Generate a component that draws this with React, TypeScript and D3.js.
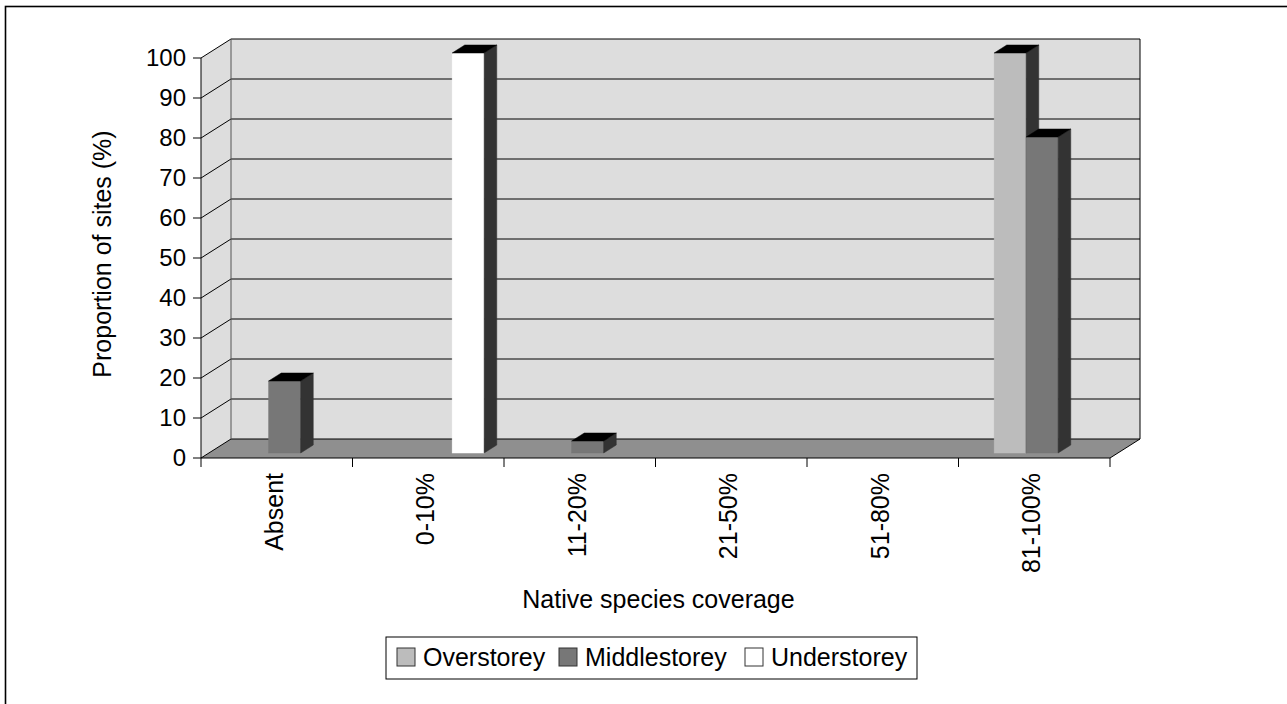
import React from "react";
import * as d3 from "d3";

// Chart data
const categories = ["Absent", "0-10%", "11-20%", "21-50%", "51-80%", "81-100%"];
const seriesNames = ["Overstorey", "Middlestorey", "Understorey"];
const overstorey = [0, 0, 0, 0, 0, 100];
const middlestorey = [18, 0, 3, 0, 0, 79];
const understorey = [0, 100, 0, 0, 0, 0];
const yTicks = [0, 10, 20, 30, 40, 50, 60, 70, 80, 90, 100];

const seriesValues = [overstorey, middlestorey, understorey];
const seriesFill = ["#bcbcbc", "#777777", "#ffffff"];

const W = 1287;
const H = 704;
const FONT = "'Liberation Sans', Arial, sans-serif";
const FS = 25;
const FS_TICK = 24;

// plot frame (front plane) and 3D depth offset
const left = 201;
const right = 1110;
const top = 58;
const bottom = 458;
const DX = 30;
const DY = -19;

export default function App() {
  const y = d3.scaleLinear().domain([0, 100]).range([bottom, top]);
  const x = d3.scaleBand<string>().domain(categories).range([left, right]).paddingInner(0).paddingOuter(0);
  const bw = x.bandwidth();
  const groupW = 96;
  const xs = d3
    .scaleBand<string>()
    .domain(seriesNames)
    .range([(bw - groupW) / 2, (bw + groupW) / 2])
    .padding(0);
  const barW = xs.bandwidth();

  // bars sit inside the floor depth between these fractions
  const f0 = 5 / 19;
  const f1 = 13 / 19;
  const ox = DX * f0;
  const oy = DY * f0;
  const bdx = DX * (f1 - f0);
  const bdy = DY * (f1 - f0);

  const pts = (p: number[][]) => p.map((q) => q.join(",")).join(" ");

  const bars: React.ReactNode[] = [];
  categories.forEach((c, ci) => {
    seriesNames.forEach((s, si) => {
      const v = seriesValues[si][ci];
      if (!v) return;
      const x0 = (x(c) as number) + (xs(s) as number) + ox;
      const x1 = x0 + barW;
      const yt = y(v) + oy;
      const yb = y(0) + oy;
      bars.push(
        <g key={`${c}-${s}`}>
          <rect x={x0} y={yt} width={barW} height={yb - yt} fill={seriesFill[si]} stroke={si === 2 ? "#ffffff" : seriesFill[si]} strokeWidth={0.5} />
          <polygon points={pts([[x1, yt], [x1 + bdx, yt + bdy], [x1 + bdx, yb + bdy], [x1, yb]])} fill="#333333" stroke="#333333" strokeWidth={0.5} />
          <polygon points={pts([[x0, yt], [x1, yt], [x1 + bdx, yt + bdy], [x0 + bdx, yt + bdy]])} fill="#000000" stroke="#000000" strokeWidth={0.5} />
        </g>
      );
    });
  });

  const legendX = 386;
  const legendY = 637;
  const legendItemX = [11, 173, 359];

  return (
    <svg width={W} height={H} style={{ position: "absolute", left: 0, top: 0, background: "#ffffff" }} fontFamily={FONT}>
      <rect x={0} y={0} width={W} height={H} fill="#ffffff" />
      <rect x={5.5} y={6.5} width={W + 20} height={H + 20} fill="none" stroke="#000000" strokeWidth={1.6} />

      {/* left wall */}
      <polygon points={pts([[left, bottom], [left, top], [left + DX, top + DY], [left + DX, bottom + DY]])} fill="#dddddd" />
      {/* back wall */}
      <rect x={left + DX} y={top + DY} width={right - left} height={bottom - top} fill="#dddddd" />
      {/* floor */}
      <polygon points={pts([[left, bottom], [right, bottom], [right + DX, bottom + DY], [left + DX, bottom + DY]])} fill="#8f8f8f" />

      {/* gridlines on back and left walls */}
      {yTicks.map((t) => (
        <g key={t}>
          <line x1={left} y1={y(t)} x2={left + DX} y2={y(t) + DY} stroke="#000000" strokeWidth={1} />
          <line x1={left + DX} y1={y(t) + DY} x2={right + DX} y2={y(t) + DY} stroke="#000000" strokeWidth={1} />
        </g>
      ))}
      <line x1={left + DX} y1={top + DY} x2={left + DX} y2={bottom + DY} stroke="#555555" strokeWidth={1} />
      <line x1={right + DX} y1={top + DY} x2={right + DX} y2={bottom + DY} stroke="#000000" strokeWidth={1} />
      <line x1={right} y1={bottom} x2={right + DX} y2={bottom + DY} stroke="#000000" strokeWidth={1} />

      {bars}

      {/* y axis */}
      <line x1={left} y1={top} x2={left} y2={bottom} stroke="#000000" strokeWidth={1} />
      {yTicks.map((t) => (
        <g key={`yt-${t}`}>
          <line x1={left - 8} y1={y(t)} x2={left} y2={y(t)} stroke="#000000" strokeWidth={1} />
          <text x={left - 15} y={y(t)} dy="0.35em" textAnchor="end" fontSize={FS_TICK} fill="#000000">
            {t}
          </text>
        </g>
      ))}

      {/* x axis */}
      <line x1={left} y1={bottom} x2={right} y2={bottom} stroke="#000000" strokeWidth={1} />
      {d3.range(categories.length + 1).map((i) => {
        const xx = left + i * bw;
        return <line key={`xt-${i}`} x1={xx} y1={bottom} x2={xx} y2={bottom + 9} stroke="#000000" strokeWidth={1} />;
      })}
      {categories.map((c) => (
        <text
          key={`xl-${c}`}
          transform={`translate(${(x(c) as number) + bw / 2},${bottom + 15}) rotate(-90)`}
          y={6}
          textAnchor="end"
          fontSize={FS}
          fill="#000000"
        >
          {c}
        </text>
      ))}

      {/* axis titles */}
      <text x={(left + right) / 2 + 3} y={608} textAnchor="middle" fontSize={FS} fill="#000000">
        Native species coverage
      </text>
      <text transform={`translate(111,${(top + bottom) / 2 - 4}) rotate(-90)`} textAnchor="middle" fontSize={FS} fill="#000000">
        Proportion of sites (%)
      </text>

      {/* legend */}
      <rect x={legendX} y={legendY} width={531} height={42} fill="#ffffff" stroke="#000000" strokeWidth={1} />
      {seriesNames.map((s, i) => (
        <g key={`lg-${s}`} transform={`translate(${legendX + legendItemX[i]},${legendY + 11})`}>
          <rect x={0} y={0} width={18} height={18} fill={seriesFill[i]} stroke="#333333" strokeWidth={1} />
          <text x={26} y={9} dy="0.35em" fontSize={FS} fill="#000000">
            {s}
          </text>
        </g>
      ))}
    </svg>
  );
}
